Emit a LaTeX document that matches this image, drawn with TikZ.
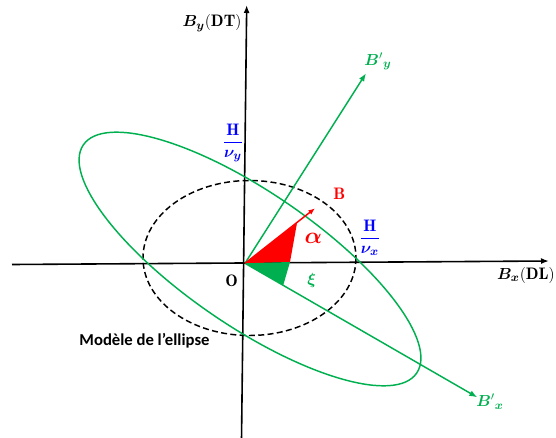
\documentclass[tikz,border=0pt]{standalone}
\usepackage{amsmath,bm}
\usepackage{fontspec}
\newfontfamily\calibri{Carlito}
\usetikzlibrary{arrows.meta}
\definecolor{og}{RGB}{0,176,80}
\definecolor{ob}{RGB}{0,0,255}
\definecolor{orr}{RGB}{255,0,0}
\begin{document}
\begin{tikzpicture}[x=0.75pt,y=-0.75pt,
  axis/.style={line width=1.2pt,-{Latex[length=6pt,width=4.5pt]}},
  garrow/.style={og,line width=1.1pt,-{Latex[length=6pt,width=4.5pt]}},
  lbl/.style={inner sep=0pt,font=\fontsize{12.5}{14}\selectfont},
  frac/.style={inner sep=0pt,ob,font=\fontsize{12.5}{14}\selectfont}]
\useasboundingbox (0,0) rectangle (556,438);
% axes
\coordinate (xl) at (12,264.5);
\coordinate (xr) at (549,261);
\coordinate (yb) at (241.5,440);
\coordinate (yt) at (246.7,5);
\coordinate (O) at (245,263.3);
\draw[axis] (xl) -- (xr);
\draw[axis] (yb) -- (yt);
% dashed circle
\draw[line width=1.1pt,dash pattern=on 4.5pt off 2.5pt] (249.5,258) ellipse [x radius=106.5, y radius=77.5];
% green ellipse
\begin{scope}[shift={(250,259)},rotate=-34.4]
\draw[og,line width=1.1pt] (0,0) ellipse [x radius=202, y radius=67];
\end{scope}
% rotated axes
\coordinate (bxp) at (477.3,397.3);
\coordinate (byp) at (366,73.3);
\draw[garrow] (O) -- (bxp);
\draw[garrow] (O) -- (byp);
% triangles
\fill[orr] (O) -- (297,223) -- (290,262) -- cycle;
\fill[og] (O) -- (290,262) -- (283.3,285) -- cycle;
% B arrow
\coordinate (btip) at (315,208.3);
\draw[orr,line width=1.1pt,-{Latex[length=5pt,width=4pt]}] (O) -- (btip);
% labels
\node[lbl] (by) at (212,23.3) {$\boldsymbol{B}_{\boldsymbol{y}}(\mathbf{DT})$};
\node[lbl,anchor=east] (bx) at (555,275) {$\boldsymbol{B}_{\boldsymbol{x}}(\mathbf{DL})$};
\node[lbl,og] (byl) at (378,61.7) {${\boldsymbol{B}'}_{\boldsymbol{y}}$};
\node[lbl,og] (bxl) at (490,401.7) {${\boldsymbol{B}'}_{\boldsymbol{x}}$};
\node[lbl,orr] (bl) at (339.3,193.3) {$\mathbf{B}$};
\node[lbl,orr,font=\fontsize{16}{18}\selectfont] (al) at (313.3,238.3) {$\boldsymbol{\alpha}$};
\node[lbl,og] (xi) at (311.7,280) {$\boldsymbol{\xi}$};
\node[lbl] (ol) at (231.7,281) {$\mathbf{O}$};
\node[frac] (fy) at (233,143.3) {$\dfrac{\mathbf{H}}{\boldsymbol{\nu}_{\boldsymbol{y}}}$};
\node[frac] (fx) at (370,237.7) {$\dfrac{\mathbf{H}}{\boldsymbol{\nu}_{\boldsymbol{x}}}$};
\node[inner sep=0pt,font=\calibri\bfseries\fontsize{12.5}{14}\selectfont] (mod) at (144.5,340.5) {Modèle de l’ellipse};
\end{tikzpicture}
\end{document}
